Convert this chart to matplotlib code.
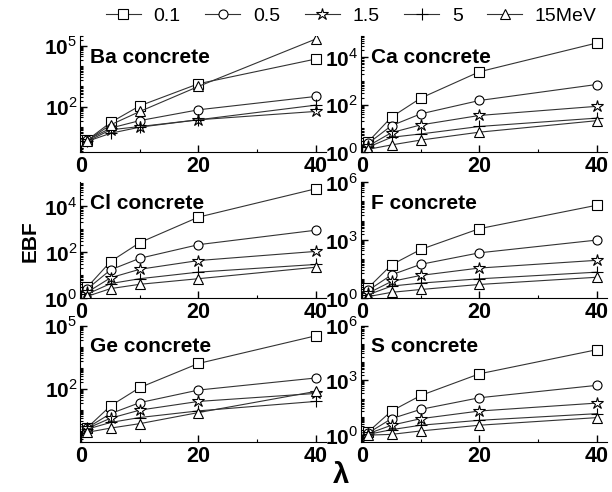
import matplotlib
matplotlib.use('Agg')
import matplotlib.pyplot as plt
from matplotlib.lines import Line2D
from matplotlib.ticker import LogLocator, FixedLocator, FuncFormatter, NullFormatter
import numpy as np

plt.rcParams['font.family'] = ['Liberation Sans', 'DejaVu Sans']
plt.rcParams['mathtext.fontset'] = 'custom'
plt.rcParams['mathtext.rm'] = 'Liberation Sans'
plt.rcParams['mathtext.bf'] = 'Liberation Sans:bold'

# penetration depth (mfp) and photon energies
depth = [1, 5, 10, 20, 40]
energies = ['0.1', '0.5', '1.5', '5', '15MeV']
markers = ['s', 'o', '*', '+', '^']

# EBF values, one row per energy (0.1, 0.5, 1.5, 5, 15 MeV)
ba_ebf = [[2.3, 17, 112, 1350, 22000],
          [2.3, 9, 21, 71, 320],
          [2.0, 7.4, 10.7, 23, 59],
          [2.0, 5, 10, 23, 120],
          [2.2, 13, 59, 1000, 210000]]
ca_ebf = [[2.7, 30, 190, 2450, 40000],
          [2.3, 13, 41, 150, 710],
          [1.8, 6.6, 14, 35, 85],
          [1.6, 4.2, 5.8, 12, 27],
          [1.3, 2.0, 3.2, 6.9, 21]]
cl_ebf = [[3.0, 39, 260, 3300, 56000],
          [2.5, 17, 54, 210, 890],
          [1.8, 7.7, 18, 43, 107],
          [1.5, 4.3, 7, 13.5, 29],
          [1.2, 2.6, 4, 7, 22]]
f_ebf = [[3.4, 53, 330, 3900, 63000],
         [2.5, 16, 56, 220, 1000],
         [1.8, 7.3, 15, 36, 90],
         [1.5, 4.2, 6, 10, 22],
         [1.2, 2.0, 2.8, 5.1, 12]]
ge_ebf = [[1.4, 15.5, 115, 1600, 33000],
          [1.4, 6.6, 22, 87, 325],
          [1.3, 4, 9.7, 25, 60],
          [1.2, 2.5, 4.3, 8.9, 25],
          [0.85, 1.35, 2.2, 7.4, 75]]
s_ebf = [[1.5, 21, 150, 2300, 48000],
         [1.3, 8, 26, 112, 535],
         [1.2, 3.5, 8, 21, 57],
         [1.1, 2, 3.5, 6.5, 15],
         [1.0, 1.1, 1.7, 3.5, 9.1]]

panels = [
    ('Ba concrete', ba_ebf, (0.6, 3e5), [1e2, 1e5]),
    ('Ca concrete', ca_ebf, (1, 8e4), [1, 1e2, 1e4]),
    ('Cl concrete', cl_ebf, (1, 1.1e5), [1, 1e2, 1e4]),
    ('F concrete', f_ebf, (1, 1e6), [1, 1e3, 1e6]),
    ('Ge concrete', ge_ebf, (0.3, 1e5), [1e2, 1e5]),
    ('S concrete', s_ebf, (0.43, 1e6), [1, 1e3, 1e6]),
]

fig = plt.figure(figsize=(6.12, 4.92), dpi=100)
lefts = [0.131, 0.590]
bottoms = [0.691, 0.394, 0.102]
w, h = 0.402, 0.236

line_kw = dict(color='#333333', lw=0.8, mfc='white', mec='black', mew=0.8)


def marker_size(m):
    return 9 if m == '*' else (8 if m == '+' else 6.5)


def fmt(v, pos):
    return r'$\mathbf{10}^{%d}$' % int(round(np.log10(v)))


for i, (name, data, ylim, majors) in enumerate(panels):
    ax = fig.add_axes([lefts[i % 2], bottoms[i // 2], w, h])
    for ebf, m in zip(data, markers):
        ax.plot(depth, ebf, marker=m, ms=marker_size(m), **line_kw)
    ax.set_yscale('log')
    ax.set_ylim(*ylim)
    ax.set_xlim(-0.2, 41.8)
    ax.yaxis.set_major_locator(FixedLocator(majors))
    ax.yaxis.set_major_formatter(FuncFormatter(fmt))
    ax.yaxis.set_minor_locator(LogLocator(base=10, subs=np.arange(1, 10), numticks=100))
    ax.yaxis.set_minor_formatter(NullFormatter())
    ax.set_xticks([0, 20, 40])
    ax.set_xticks([10, 30], minor=True)
    for s in ('top', 'right'):
        ax.spines[s].set_visible(False)
    ax.tick_params(which='both', direction='in')
    ax.tick_params(which='major', length=5, width=1)
    ax.tick_params(which='minor', length=2.5, width=0.8)
    ax.tick_params(axis='x', pad=3, labelsize=15.5)
    ax.tick_params(axis='y', pad=2, labelsize=15)
    for lab in ax.get_xticklabels():
        lab.set_fontweight('bold')
    ax.text(0.04, 0.77, name, transform=ax.transAxes, fontsize=15,
            fontweight='bold', va='baseline')

fig.text(0.05, 0.51, 'EBF', rotation=90, fontsize=15, fontweight='bold',
         ha='center', va='center')
fig.text(0.558, 0.035, 'λ', fontsize=21, fontweight='bold',
         ha='center', va='center')

handles = [Line2D([], [], marker=m, ms=marker_size(m), **line_kw) for m in markers]
fig.legend(handles, energies, loc='center', bbox_to_anchor=(0.574, 0.968),
           ncol=5, frameon=False, fontsize=14, handlelength=1.8,
           handletextpad=0.65, columnspacing=1.27, borderpad=0)

fig.savefig('out.png', dpi=100)
